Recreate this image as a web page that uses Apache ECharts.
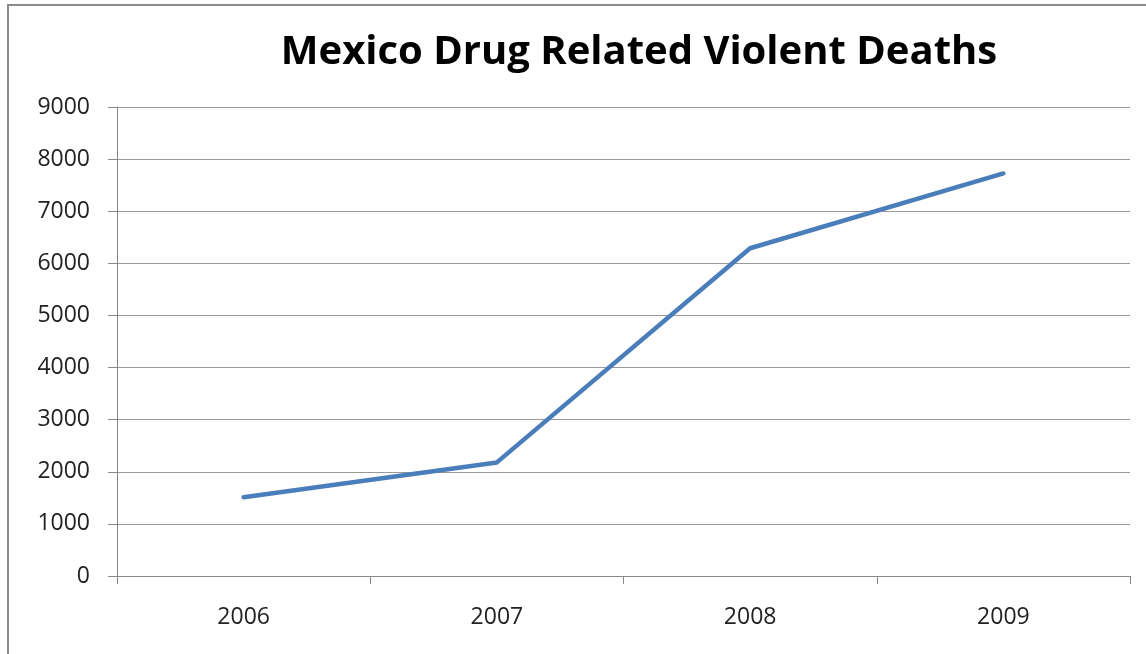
<!DOCTYPE html>
<html>
<head>
<meta charset="utf-8">
<script src="https://cdn.jsdelivr.net/npm/echarts@6/dist/echarts.min.js"></script>
<style>
html,body{margin:0;padding:0;background:#fff;}
#chart{width:1146px;height:654px;}
</style>
</head>
<body>
<div id="chart"></div>
<script>
const titleText = "Mexico Drug Related Violent Deaths";
const years = ["2006", "2007", "2008", "2009"];
const deaths = [1510, 2180, 6290, 7725];
const yTicks = {min: 0, max: 9000, interval: 1000};

const chart = echarts.init(document.getElementById('chart'), null, {renderer: 'canvas'});
const font = "'Open Sans', 'Liberation Sans', sans-serif";
chart.setOption({
  animation: false,
  backgroundColor: '#ffffff',
  title: {
    text: titleText,
    left: 634,
    top: 28,
    textAlign: 'center',
    textStyle: {fontFamily: font, fontWeight: 'bold', fontSize: 40, color: '#000'}
  },
  graphic: [{
    type: 'rect',
    shape: {x: 8, y: 5, width: 1200, height: 700},
    style: {fill: 'none', stroke: '#8a8a8a', lineWidth: 2},
    silent: true
  }],
  grid: {left: 117, right: 16, top: 107, bottom: 78, containLabel: false},
  xAxis: {
    type: 'category',
    data: years,
    boundaryGap: true,
    axisLine: {show: true, lineStyle: {color: '#888', width: 1}},
    axisTick: {show: true, length: 8, inside: false, alignWithLabel: false, lineStyle: {color: '#888'}},
    axisLabel: {margin: 30, fontFamily: font, fontSize: 23, color: '#222'},
    splitLine: {show: false}
  },
  yAxis: {
    type: 'value',
    min: yTicks.min, max: yTicks.max, interval: yTicks.interval,
    axisLine: {show: true, lineStyle: {color: '#888', width: 1}},
    axisTick: {show: true, length: 9, lineStyle: {color: '#888'}},
    axisLabel: {margin: 27, fontFamily: font, fontSize: 23, color: '#222', formatter: function (v) { return String(v); }},
    splitLine: {show: true, lineStyle: {color: '#999', width: 1.2}}
  },
  series: [{
    type: 'line',
    data: deaths,
    symbol: 'none',
    lineStyle: {color: '#4a7ebb', width: 4.5, cap: 'round', join: 'round'},
    itemStyle: {color: '#4a7ebb'}
  }]
});
</script>
</body>
</html>
